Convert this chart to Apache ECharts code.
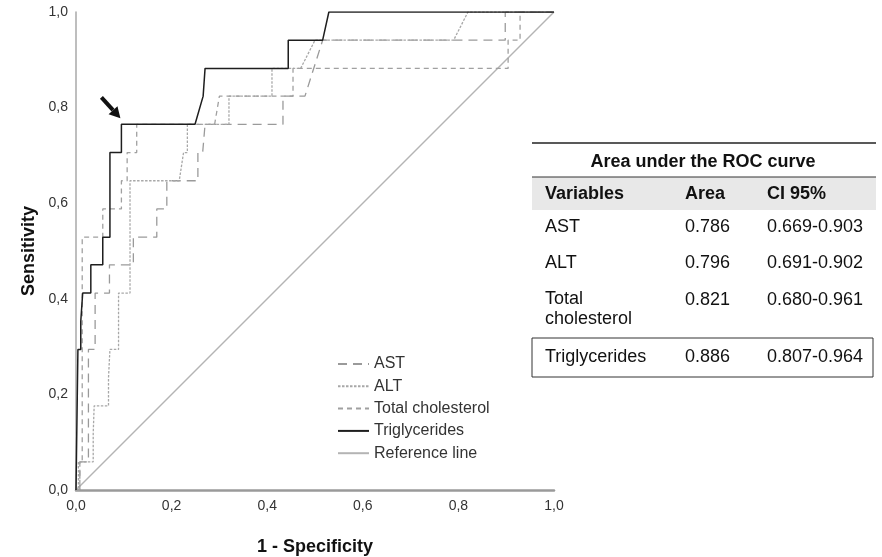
<!DOCTYPE html>
<html>
<head>
<meta charset="utf-8">
<script src="https://cdn.jsdelivr.net/npm/echarts@6/dist/echarts.min.js"></script>
<style>
  html, body { margin: 0; padding: 0; background: #fff; }
  #chart { width: 882px; height: 557px; }
</style>
</head>
<body>
<div id="chart"></div>
<script>
// ROC curves: [1 - specificity, sensitivity] vertices of each step curve
const astCurve = [[0,0],[0.008,0],[0.008,0.059],[0.026,0.059],[0.026,0.294],[0.04,0.294],[0.04,0.412],[0.07,0.412],[0.07,0.471],[0.12,0.471],[0.12,0.529],[0.169,0.529],[0.169,0.588],[0.19,0.588],[0.19,0.647],[0.255,0.647],[0.255,0.706],[0.265,0.706],[0.27,0.765],[0.433,0.765],[0.433,0.824],[0.479,0.824],[0.516,0.941],[0.898,0.941],[0.898,1],[1,1]];
const altCurve = [[0,0],[0.005,0],[0.005,0.059],[0.036,0.059],[0.036,0.118],[0.038,0.118],[0.038,0.176],[0.068,0.176],[0.068,0.235],[0.071,0.235],[0.071,0.294],[0.089,0.294],[0.089,0.412],[0.113,0.412],[0.113,0.647],[0.216,0.647],[0.225,0.706],[0.233,0.706],[0.233,0.765],[0.32,0.765],[0.32,0.824],[0.41,0.824],[0.41,0.882],[0.47,0.882],[0.5,0.941],[0.79,0.941],[0.82,1],[1,1]];
const cholCurve = [[0,0],[0.008,0],[0.008,0.059],[0.013,0.059],[0.013,0.529],[0.056,0.529],[0.056,0.588],[0.095,0.588],[0.095,0.647],[0.107,0.647],[0.107,0.706],[0.127,0.706],[0.127,0.765],[0.29,0.765],[0.3,0.824],[0.454,0.824],[0.454,0.882],[0.904,0.882],[0.904,0.941],[0.929,0.941],[0.929,1],[1,1]];
const trigCurve = [[0,0],[0.004,0],[0.004,0.294],[0.01,0.294],[0.01,0.353],[0.014,0.353],[0.014,0.412],[0.031,0.412],[0.031,0.471],[0.056,0.471],[0.056,0.529],[0.071,0.529],[0.071,0.706],[0.095,0.706],[0.095,0.765],[0.249,0.765],[0.266,0.824],[0.27,0.824],[0.27,0.882],[0.444,0.882],[0.444,0.941],[0.516,0.941],[0.529,1],[1,1]];
const refLine = [[0,0],[1,1]];

// Highlighted cut-off on the triglycerides curve
const cutoffPoint = [0.095, 0.765];

// Table: area under the ROC curve
const tableTitle = 'Area under the ROC curve';
const tableHeader = ['Variables', 'Area', 'CI 95%'];
const tableVariables = ['AST', 'ALT', 'Total\ncholesterol', 'Triglycerides'];
const tableAreas = ['0.786', '0.796', '0.821', '0.886'];
const tableCI = ['0.669-0.903', '0.691-0.902', '0.680-0.961', '0.807-0.964'];

const FONT = '"Liberation Sans", Arial, sans-serif';
const fmt = v => v.toFixed(1).replace('.', ',');

const chart = echarts.init(document.getElementById('chart'), null, { renderer: 'canvas' });

// Table graphics
const colX = [545, 685, 767];
const rowY = [227, 263, 300, 357];
const tableGraphics = [
  { type: 'line', shape: { x1: 532, y1: 143, x2: 876, y2: 143 }, style: { stroke: '#222', lineWidth: 1.5 } },
  { type: 'text', x: 703, y: 162, style: { text: tableTitle, font: 'bold 18px ' + FONT, fill: '#111', align: 'center', verticalAlign: 'middle' } },
  { type: 'rect', shape: { x: 532, y: 177, width: 344, height: 33 }, style: { fill: '#e8e8e8' } },
  { type: 'line', shape: { x1: 532, y1: 177, x2: 876, y2: 177 }, style: { stroke: '#333', lineWidth: 1 } },
  { type: 'rect', shape: { x: 532, y: 338, width: 341, height: 39 }, style: { fill: 'none', stroke: '#333', lineWidth: 1 } }
];
tableHeader.forEach((h, i) => {
  tableGraphics.push({ type: 'text', x: colX[i], y: 194, style: { text: h, font: 'bold 18px ' + FONT, fill: '#111', align: 'left', verticalAlign: 'middle' } });
});
tableVariables.forEach((v, r) => {
  const multi = v.indexOf('\n') >= 0;
  tableGraphics.push({ type: 'text', x: colX[0], y: multi ? rowY[r] - 11 : rowY[r], style: { text: v, font: '18px ' + FONT, fill: '#111', align: 'left', verticalAlign: multi ? 'top' : 'middle', lineHeight: 20 } });
  tableGraphics.push({ type: 'text', x: colX[1], y: rowY[r], style: { text: tableAreas[r], font: '18px ' + FONT, fill: '#111', align: 'left', verticalAlign: 'middle' } });
  tableGraphics.push({ type: 'text', x: colX[2], y: rowY[r], style: { text: tableCI[r], font: '18px ' + FONT, fill: '#111', align: 'left', verticalAlign: 'middle' } });
});

const lineSeries = (name, data, color, width, dash, z) => ({
  name, type: 'line', data, showSymbol: false, symbol: 'none', z,
  lineStyle: { color, width, type: dash },
  itemStyle: { color },
  emphasis: { disabled: true },
  animation: false
});

chart.setOption({
  animation: false,
  textStyle: { fontFamily: FONT },
  grid: { left: 76, top: 12, width: 478, height: 478, outerBoundsMode: 'none', containLabel: false },
  xAxis: {
    type: 'value', min: 0, max: 1, interval: 0.2,
    name: '1 - Specificity', nameLocation: 'middle', nameGap: 48,
    nameTextStyle: { fontSize: 18, fontWeight: 'bold', color: '#111', fontFamily: FONT },
    axisLine: { show: true, onZero: false, lineStyle: { color: '#9a9a9a', width: 2.5 } },
    axisTick: { show: false },
    splitLine: { show: false },
    axisLabel: { formatter: fmt, fontSize: 14, color: '#333', margin: 9, fontFamily: FONT }
  },
  yAxis: {
    type: 'value', min: 0, max: 1, interval: 0.2,
    name: 'Sensitivity', nameLocation: 'middle', nameGap: 38,
    nameTextStyle: { fontSize: 18, fontWeight: 'bold', color: '#111', fontFamily: FONT },
    axisLine: { show: true, onZero: false, lineStyle: { color: '#a8a8a8', width: 1.5 } },
    axisTick: { show: false },
    splitLine: { show: false },
    axisLabel: { formatter: fmt, fontSize: 14, color: '#333', margin: 8, fontFamily: FONT }
  },
  legend: {
    orient: 'vertical', left: 337, top: 356, padding: 0,
    itemWidth: 31, itemHeight: 14, itemGap: 6.3,
    itemStyle: { opacity: 0 },
    textStyle: { fontSize: 16, color: '#333', fontFamily: FONT },
    data: ['AST', 'ALT', 'Total cholesterol', 'Triglycerides', 'Reference line']
  },
  series: [
    lineSeries('Reference line', refLine, '#b4b4b4', 1.5, 'solid', 1),
    lineSeries('AST', astCurve, '#9a9a9a', 1.3, [9, 6], 2),
    lineSeries('ALT', altCurve, '#a8a8a8', 1.3, [2.5, 1.5], 3),
    lineSeries('Total cholesterol', cholCurve, '#a0a0a0', 1.3, [5, 4], 4),
    lineSeries('Triglycerides', trigCurve, '#1e1e1e', 1.5, 'solid', 5)
  ],
  graphic: tableGraphics
});

// Arrow pointing at the highlighted cut-off
const p = chart.convertToPixel({ gridIndex: 0 }, cutoffPoint);
const tip = [p[0] - 1, p[1] - 6];
const tail = [tip[0] - 19, tip[1] - 21];
const dx = tip[0] - tail[0], dy = tip[1] - tail[1];
const len = Math.hypot(dx, dy), ux = dx / len, uy = dy / len;
const hl = 11, hw = 6;
const base = [tip[0] - ux * hl, tip[1] - uy * hl];
chart.setOption({
  graphic: tableGraphics.concat([
    { type: 'line', shape: { x1: tail[0], y1: tail[1], x2: base[0], y2: base[1] }, style: { stroke: '#111', lineWidth: 4 } },
    { type: 'polygon', shape: { points: [tip, [base[0] - uy * hw, base[1] + ux * hw], [base[0] + uy * hw, base[1] - ux * hw]] }, style: { fill: '#111' } }
  ])
});
</script>
</body>
</html>
